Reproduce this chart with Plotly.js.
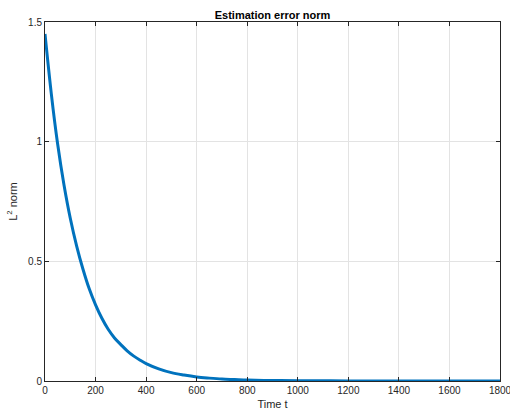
<!DOCTYPE html>
<html>
<head>
<meta charset="utf-8">
<script src="https://cdn.plot.ly/plotly-3.0.1.min.js"></script>
<style>
html,body{margin:0;padding:0;background:#fff;}
#chart{width:510px;height:415px;}
</style>
</head>
<body>
<div id="chart"></div>
<script>
// Time samples and estimated L2 error norm
const timeT = [0, 25, 50, 75, 100, 125, 150, 175, 200, 225, 250, 275, 300, 325, 350, 375, 400, 450, 500, 550, 600, 650, 700, 750, 800, 900, 1000, 1200, 1400, 1600, 1800];
const errNorm = [1.45, 1.20, 0.99, 0.82, 0.68, 0.565, 0.468, 0.385, 0.318, 0.262, 0.216, 0.180, 0.152, 0.126, 0.105, 0.088, 0.073, 0.051, 0.035, 0.025, 0.017, 0.012, 0.008, 0.006, 0.004, 0.002, 0.001, 0.0005, 0.0002, 0.0001, 0.0];
const xTicks = [0, 200, 400, 600, 800, 1000, 1200, 1400, 1600, 1800];
const yTicks = [0, 0.5, 1, 1.5];
const yTickText = ['0', '0.5', '1', '1.5'];

const axisColor = '#262626';
const gridColor = '#e3e3e3';
const fontFam = 'Liberation Sans, Arial, Helvetica, sans-serif';

const trace = {
  x: timeT, y: errNorm, type: 'scatter', mode: 'lines',
  line: {color: '#0072BD', width: 3, shape: 'spline', smoothing: 1},
  hoverinfo: 'skip'
};

const layout = {
  width: 510, height: 415,
  margin: {l: 45, r: 10, t: 22, b: 34},
  paper_bgcolor: '#ffffff', plot_bgcolor: '#ffffff',
  showlegend: false,
  font: {family: fontFam, size: 10, color: axisColor},
  title: {text: '<b>Estimation error norm</b>', font: {family: fontFam, size: 11, color: '#000000'},
          x: 0.5, xref: 'paper', y: 1, yref: 'paper', yanchor: 'bottom', pad: {b: 3}},
  xaxis: {
    range: [0, 1800], tickvals: xTicks, ticktext: xTicks.map(String),
    ticklabeloverflow: 'allow',
    showgrid: true, gridcolor: gridColor, gridwidth: 1,
    showline: true, linecolor: axisColor, linewidth: 1, mirror: 'ticks',
    ticks: 'inside', ticklen: 4, tickcolor: axisColor, tickwidth: 1,
    zeroline: false, tickfont: {size: 10, color: axisColor},
    title: {text: 'Time t', font: {size: 11, color: axisColor}, standoff: 5}
  },
  yaxis: {
    range: [0, 1.5], tickvals: yTicks, ticktext: yTickText,
    ticklabeloverflow: 'allow',
    showgrid: true, gridcolor: gridColor, gridwidth: 1,
    showline: true, linecolor: axisColor, linewidth: 1, mirror: 'ticks',
    ticks: 'inside', ticklen: 4, tickcolor: axisColor, tickwidth: 1,
    zeroline: false, tickfont: {size: 10, color: axisColor},
    title: {text: 'L<sup>2</sup> norm', font: {size: 11, color: axisColor}, standoff: 8}
  }
};

Plotly.newPlot('chart', [trace], layout, {staticPlot: true, displayModeBar: false});
</script>
</body>
</html>
